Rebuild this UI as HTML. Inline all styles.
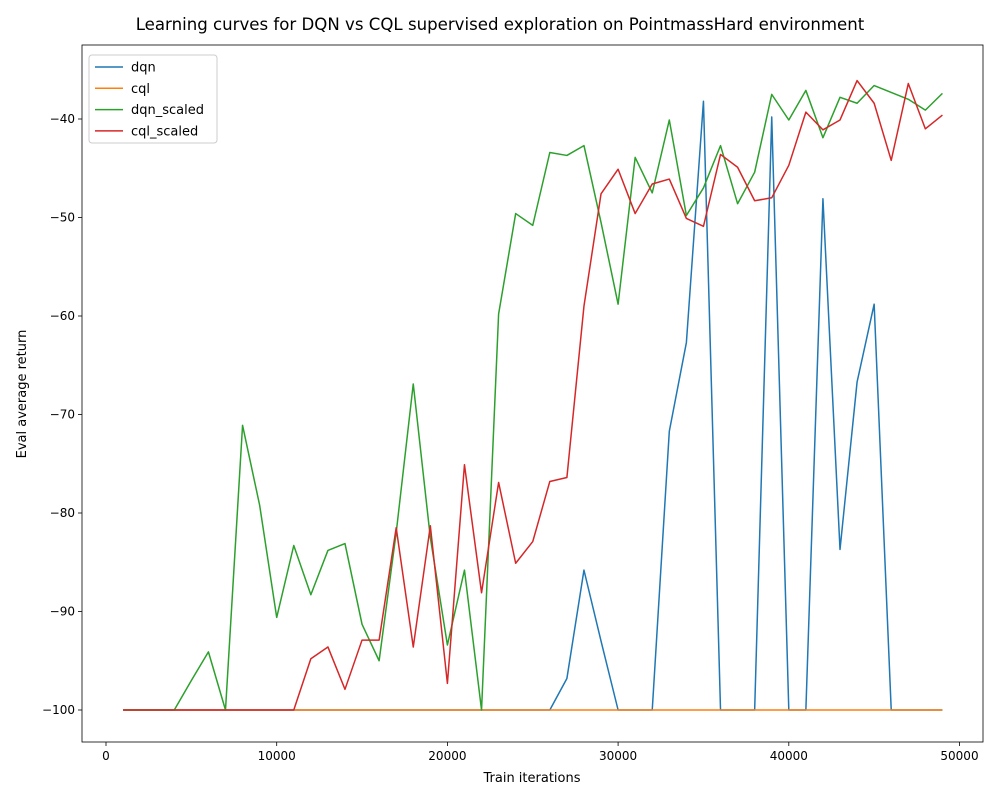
<!DOCTYPE html>
<html><head><meta charset="utf-8"><style>
body{margin:0;background:#fff;font-family:"Liberation Sans","DejaVu Sans",sans-serif}
svg text{font-family:"DejaVu Sans","Liberation Sans",sans-serif}
</style></head><body>
<svg id="chart" width="1000" height="800" xmlns="http://www.w3.org/2000/svg">
<rect width="1000" height="800" fill="#fff"/>
<text x="500" y="30" text-anchor="middle" font-size="16.6">Learning curves for DQN vs CQL supervised exploration on PointmassHard environment</text>
<g id="plot"></g>
<text x="532" y="782" text-anchor="middle" font-size="13">Train iterations</text>
<text transform="translate(26,394) rotate(-90)" text-anchor="middle" font-size="13">Eval average return</text>
</svg>
<script>
const xTicks=[0,10000,20000,30000,40000,50000];
const yTicks=[-100,-90,-80,-70,-60,-50,-40];
const seriesNames=["dqn","cql","dqn_scaled","cql_scaled"];
const seriesColors=["#1f77b4","#ff7f0e","#2ca02c","#d62728"];
const iterations=[1000,2000,3000,4000,5000,6000,7000,8000,9000,10000,11000,12000,13000,14000,15000,16000,17000,18000,19000,20000,21000,22000,23000,24000,25000,26000,27000,28000,29000,30000,31000,32000,33000,34000,35000,36000,37000,38000,39000,40000,41000,42000,43000,44000,45000,46000,47000,48000,49000];
const dqn=[-100,-100,-100,-100,-100,-100,-100,-100,-100,-100,-100,-100,-100,-100,-100,-100,-100,-100,-100,-100,-100,-100,-100,-100,-100,-100,-96.8,-85.8,-93,-100,-100,-100,-71.7,-62.7,-38.2,-100,-100,-100,-39.8,-100,-100,-48.1,-83.7,-66.7,-58.8,-100,-100,-100,-100];
const cql=[-100,-100,-100,-100,-100,-100,-100,-100,-100,-100,-100,-100,-100,-100,-100,-100,-100,-100,-100,-100,-100,-100,-100,-100,-100,-100,-100,-100,-100,-100,-100,-100,-100,-100,-100,-100,-100,-100,-100,-100,-100,-100,-100,-100,-100,-100,-100,-100,-100];
const dqnScaled=[-100,-100,-100,-100,-97,-94.1,-100,-71.1,-79.2,-90.6,-83.3,-88.3,-83.8,-83.1,-91.3,-95,-82,-66.9,-82.5,-93.4,-85.8,-100,-59.8,-49.6,-50.8,-43.4,-43.7,-42.7,-50.5,-58.8,-43.9,-47.5,-40.1,-49.8,-47,-42.7,-48.6,-45.4,-37.5,-40.1,-37.1,-41.9,-37.8,-38.4,-36.6,-37.3,-38,-39.1,-37.4];
const cqlScaled=[-100,-100,-100,-100,-100,-100,-100,-100,-100,-100,-100,-94.8,-93.6,-97.9,-92.9,-92.9,-81.5,-93.6,-81.3,-97.3,-75.1,-88.1,-76.9,-85.1,-82.9,-76.8,-76.4,-59,-47.6,-45.1,-49.6,-46.6,-46.1,-50.1,-50.9,-43.6,-44.9,-48.3,-48,-44.7,-39.3,-41.1,-40.1,-36.1,-38.4,-44.2,-36.4,-41,-39.6];
const allSeries=[dqn,cql,dqnScaled,cqlScaled];

const NS="http://www.w3.org/2000/svg";
const L=82,R=983,T=45,B=742;
const xs=v=>106+v*(170.7/10000);
const ys=v=>710+(v+100)*(-9.85);
const g=document.getElementById('plot');
function mk(tag,attrs){const e=document.createElementNS(NS,tag);for(const k in attrs)e.setAttribute(k,attrs[k]);g.appendChild(e);return e;}

xTicks.forEach(t=>{
  const l=mk('line',{x1:xs(t),x2:xs(t),y1:B,y2:B+4,stroke:'#000','stroke-width':0.8});
  
  
  const tx=mk('text',{x:xs(t),y:B+18,'text-anchor':'middle','font-size':12});
  tx.textContent=t;
  
  
});
yTicks.forEach(t=>{
  const l=mk('line',{x1:L-4,x2:L,y1:ys(t),y2:ys(t),stroke:'#000','stroke-width':0.8});
  
  
  const tx=mk('text',{x:L-7,y:ys(t)+4,'text-anchor':'end','font-size':12});
  tx.textContent='\u2212'+Math.abs(t);
  
  
});
allSeries.forEach((s,i)=>{
  const p=mk('polyline',{points:s.map((v,j)=>xs(iterations[j])+','+ys(v)).join(' '),fill:'none',stroke:seriesColors[i],'stroke-width':1.5,'stroke-linejoin':'round'});
  
  
});
const frame=mk('rect',{x:L,y:T,width:R-L,height:B-T,fill:'none',stroke:'#000','stroke-width':0.8});


const lg=mk('rect',{x:89,y:55,width:128,height:88,fill:'#fff',stroke:'#ccc','stroke-width':1,rx:3});


seriesNames.forEach((n,i)=>{
  const y=67+i*21.3;
  const l=mk('line',{x1:95,x2:123,y1:y,y2:y,stroke:seriesColors[i],'stroke-width':1.5});
  
  
  const t=mk('text',{x:131,y:y+4.5,'font-size':13});
  t.textContent=n;
  
  
});
</script>
</body></html>
